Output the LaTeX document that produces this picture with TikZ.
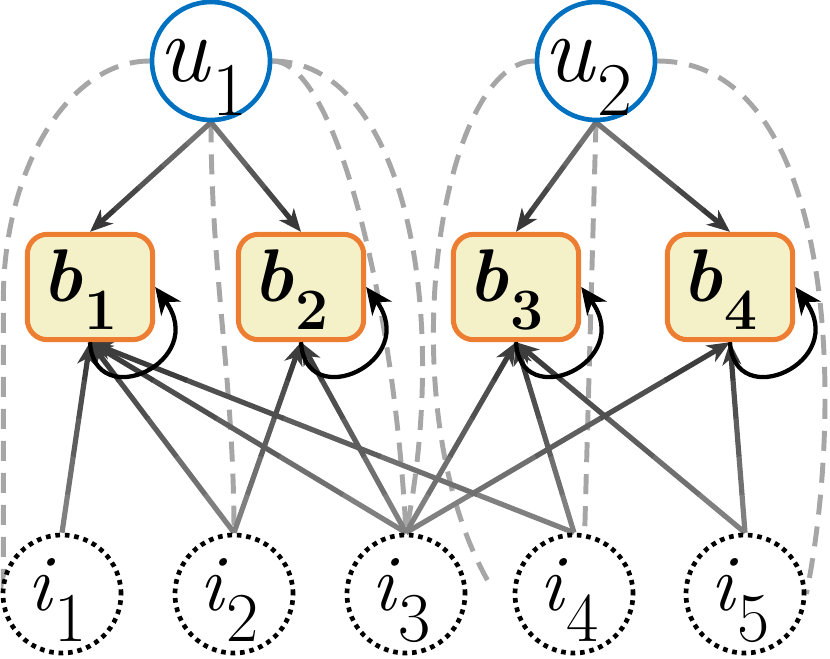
\documentclass[tikz,border=0pt]{standalone}
\usetikzlibrary{arrows.meta,calc,backgrounds}
\definecolor{ublue}{HTML}{0070C0}
\definecolor{borange}{HTML}{ED7D31}
\definecolor{bfill}{HTML}{F4F0C8}
\definecolor{dgray}{HTML}{A6A6A6}
\newcommand\ulab[1]{\scalebox{3.0}{{\fontsize{24}{24}\selectfont\itshape u}\kern0.8pt\raisebox{-8.5pt}{\fontsize{19}{19}\selectfont #1}}\kern12pt}
\newcommand\ilab[1]{\scalebox{2.5}{{\fontsize{24}{24}\selectfont\itshape i}\kern0.8pt\raisebox{-9.5pt}{\fontsize{21}{21}\selectfont #1}}\kern7pt}
\newcommand\blab[1]{\scalebox{2.8}{{\fontsize{20}{20}\selectfont\bfseries\itshape b}\kern0.8pt\raisebox{-7.5pt}{\fontsize{15.7}{15.7}\selectfont\bfseries #1}}\kern15pt}
\newcommand\gradarrow[4]{%
  \foreach \k in {0,...,3}{%
    \pgfmathsetmacro\ta{\k/5}%
    \pgfmathsetmacro\tb{(\k+1)/5+0.003}%
    \pgfmathtruncatemacro\sh{#3+(#4-#3)*\k/4}%
    \draw[line width=3.9pt, black!\sh] ($(#1)!\ta!(#2)$) -- ($(#1)!\tb!(#2)$);
  }%
  \draw[line width=3.9pt, black!#4, -{Stealth[length=17pt,width=14pt,inset=5pt]}] ($(#1)!0.8!(#2)$) -- (#2);
}
\tikzset{
  unode/.style={circle, draw=ublue, line width=3.5pt, fill=white, minimum size=88.5pt, inner sep=0pt, text height=31pt, text depth=0pt},
  inode/.style={circle, draw=black, line width=3.5pt, dash pattern=on 3.5pt off 3.6pt, fill=white, minimum size=88.5pt, inner sep=0pt, text height=24pt, text depth=0pt},
  bnode/.style={rectangle, rounded corners=15pt, draw=borange, fill=bfill, line width=3.75pt, minimum width=94pt, minimum height=79pt, inner sep=0pt, text height=22pt, text depth=0pt},
  simlink/.style={dgray, line width=3.7pt, dash pattern=on 15pt off 9pt},
  selfloop/.style={black, line width=3.2pt, -{Stealth[length=20pt,width=18pt,inset=6pt]}},
}
\begin{document}
\begin{tikzpicture}[x=0.75pt, y=-0.75pt]
\useasboundingbox (0,0) rectangle (830,658);
% nodes
\node[unode] (u1) at (211,61) {\ulab{1}};
\node[unode] (u2) at (596,61) {\ulab{2}};
\node[bnode] (b1) at (90,287) {\blab{1}};
\node[bnode] (b2) at (301,287) {\blab{2}};
\node[bnode] (b3) at (516,287) {\blab{3}};
\node[bnode] (b4) at (730,287) {\blab{4}};
\node[inode] (i1) at (62,594) {\ilab{1}};
\node[inode] (i2) at (234,594) {\ilab{2}};
\node[inode] (i3) at (406,594) {\ilab{3}};
\node[inode] (i4) at (574,594) {\ilab{4}};
\node[inode] (i5) at (745,594) {\ilab{5}};
\coordinate (c1) at (0,300);
\coordinate (c2) at (492,588);
\begin{scope}[on background layer]
  % dashed links
  \draw[simlink] (u1.west) .. controls +(-81,0) and +(0,-132) .. ([xshift=2pt]i1.west |- c1) -- ([xshift=2pt]i1.west);
  \draw[simlink] (u1.south) .. controls +(0,150) and +(0,-150) .. (i2.north);
  \draw[simlink] (u1.east) .. controls +(63,0) and +(-12,-233) .. (i3.north);
  \draw[simlink] (u1.east) .. controls +(128,0) and +(46,-233) .. (i3.north);
  \draw[simlink] (u2.west) .. controls +(-95,0) and +(-107,-178) .. (c2);
  \draw[simlink] (u2.south) -- (i4.80);
  \draw[simlink] (u2.east) .. controls +(178,0) and +(39,-194) .. (i5.east);
  % arrows
  \gradarrow{u1.south}{b1.north}{55}{78}
  \gradarrow{u1.south}{b2.north}{55}{78}
  \gradarrow{u2.south}{b3.north}{55}{78}
  \gradarrow{u2.south}{b4.north}{55}{78}
  \gradarrow{i1.north}{b1.south}{50}{76}
  \gradarrow{i2.north}{b1.south}{50}{76}
  \gradarrow{i2.north}{b2.south}{50}{76}
  \gradarrow{i3.north}{b1.south}{50}{76}
  \gradarrow{i3.north}{b2.south}{50}{76}
  \gradarrow{i3.north}{b3.south}{50}{76}
  \gradarrow{i3.north}{b4.south}{50}{76}
  \gradarrow{i4.north}{b1.south}{50}{76}
  \gradarrow{i4.north}{b3.south}{50}{76}
  \gradarrow{i5.north}{b3.south}{50}{76}
  \gradarrow{i5.north}{b4.south}{50}{76}
\end{scope}
% self loops
\foreach \b in {b1,b2,b3,b4}{
  \draw[selfloop] (\b.south) .. controls +(4,72) and +(55,75) .. (\b.east);
}
\end{tikzpicture}
\end{document}
